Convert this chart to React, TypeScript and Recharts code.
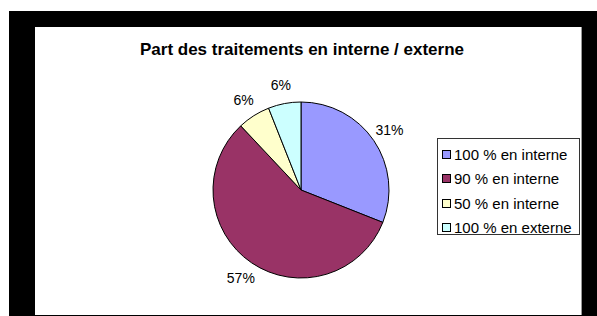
import { PieChart, Pie, Cell, Legend } from "recharts";

const CATEGORIES = ["100 % en interne", "90 % en interne", "50 % en interne", "100 % en externe"];
const SHARES = [31, 57, 6, 6];
const COLORS = ["#9999ff", "#993366", "#ffffcc", "#ccffff"];
const TITLE = "Part des traitements en interne / externe";

const data = CATEGORIES.map((name, i) => ({ name, value: SHARES[i] }));

const FONT = '"Liberation Sans", Arial, sans-serif';
const RAD = Math.PI / 180;

function renderLabel(props: any) {
  const { cx, cy, midAngle, outerRadius, percent } = props;
  const r = outerRadius + 19;
  const x = cx + r * Math.cos(-midAngle * RAD);
  const y = cy + r * Math.sin(-midAngle * RAD);
  return (
    <text x={x} y={y} textAnchor="middle" dominantBaseline="central" fontSize={14} fontFamily={FONT} fill="#000">
      {`${Math.round(percent * 100)}%`}
    </text>
  );
}

function LegendBox() {
  return (
    <div style={{ width: 141, height: 92, border: "1px solid #333", background: "#fff", paddingTop: 3, boxSizing: "content-box" }}>
      {CATEGORIES.map((c, i) => (
        <div key={c} style={{ display: "flex", alignItems: "center", height: 24.5, fontFamily: FONT, fontSize: 15, color: "#000", whiteSpace: "nowrap" }}>
          <span style={{ width: 7, height: 7, border: "1px solid #000", background: COLORS[i], marginLeft: 4, marginRight: 3 }} />
          {c}
        </div>
      ))}
    </div>
  );
}

export default function App() {
  return (
    <div style={{ position: "absolute", left: 0, top: 0, width: 597, height: 316, background: "#fff" }}>
      <div style={{ position: "absolute", left: 9, top: 11, width: 588, height: 305, background: "#000" }} />
      <div style={{ position: "absolute", left: 35, top: 27, width: 547, height: 288, background: "#fff", borderRight: "1px solid #999", boxSizing: "border-box" }}>
        <div style={{ position: "absolute", left: 67, top: 13, width: 400, textAlign: "center", fontFamily: FONT, fontWeight: "bold", fontSize: 17, lineHeight: "20px", color: "#000" }}>
          {TITLE}
        </div>
        <PieChart width={547} height={288} margin={{ top: 0, right: 0, bottom: 0, left: 0 }}>
          <Pie
            data={data}
            dataKey="value"
            nameKey="name"
            cx={266}
            cy={163}
            outerRadius={88}
            startAngle={90}
            endAngle={-270}
            stroke="#000"
            strokeWidth={1}
            label={renderLabel}
            labelLine={false}
            isAnimationActive={false}
          >
            {data.map((_, i) => <Cell key={i} fill={COLORS[i]} />)}
          </Pie>
          <Legend content={() => <LegendBox />} wrapperStyle={{ position: "absolute", left: 402, top: 111, width: "auto" }} />
        </PieChart>
      </div>
    </div>
  );
}
